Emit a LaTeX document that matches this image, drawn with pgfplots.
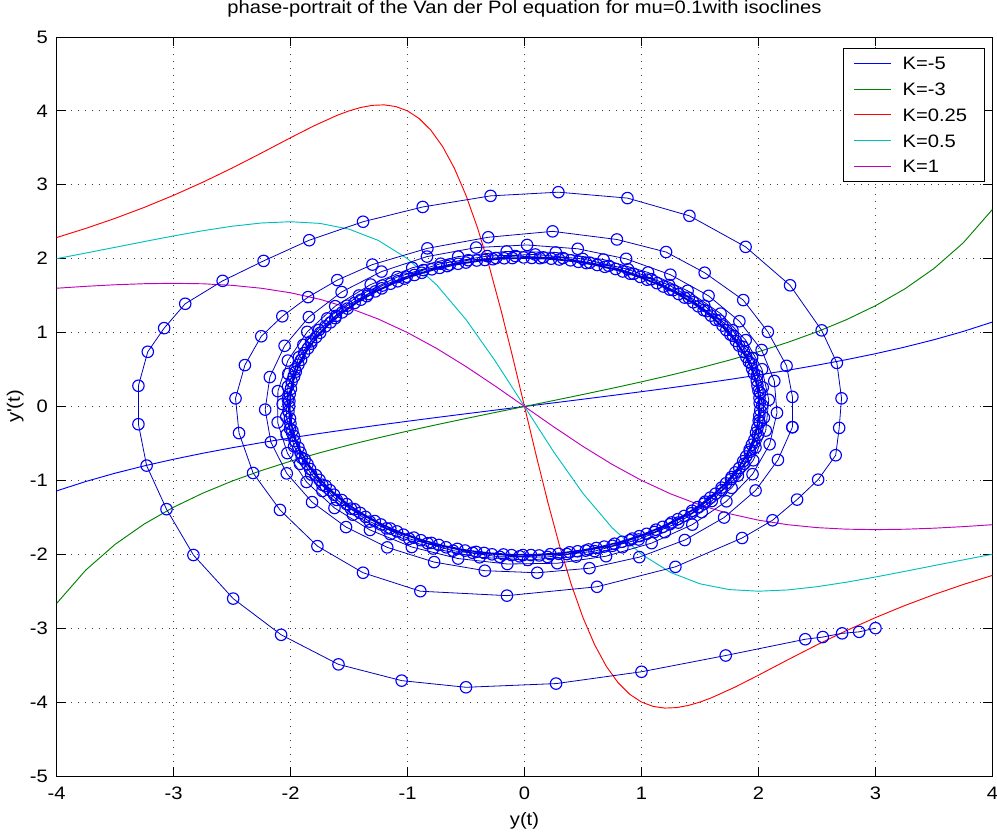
\documentclass[border=0pt]{standalone}
\usepackage{fontspec}
\setmainfont{Liberation Sans}[FakeStretch=1.12,Ligatures=TeXOff]
\usepackage{pgfplots}
\pgfplotsset{compat=1.18}

\definecolor{mblue}{rgb}{0,0,1}
\definecolor{mgreen}{rgb}{0,0.5,0}
\definecolor{mred}{rgb}{1,0,0}
\definecolor{mcyan}{rgb}{0,0.75,0.75}
\definecolor{mmag}{rgb}{0.75,0,0.75}
\newcommand{\ff}{\fontsize{13.5}{16}\selectfont}

\pgfplotsset{
  iso/.style={line width=0.7pt, forget plot},
  traj/.style={color=mblue!75!black, line width=0.6pt, mark=o, mark size=4.3pt,
    mark options={solid, color=mblue, line width=0.85pt}, forget plot},
}

\begin{document}
\begin{tikzpicture}
\path[use as bounding box] (-42.4pt,-48pt) rectangle (705.4pt,582pt);
\begin{axis}[
  at={(0pt,0pt)}, anchor=south west,
  scale only axis, width=702pt, height=554.25pt,
  xmin=-4, xmax=4, ymin=-5, ymax=5,
  xtick={-4,...,4}, ytick={-5,...,5},
  tick align=inside, xtick pos=both, ytick pos=both,
  major tick length=6.75pt,
  tick style={black, line width=0.6pt},
  axis line style={black, line width=0.6pt},
  grid=major,
  major grid style={black!75, line width=0.6pt, dash pattern=on 0.75pt off 4.5pt},
  /pgf/number format/assume math mode=true,
  ticklabel style={font=\ff},
  xticklabel style={yshift=-5pt},
  yticklabel style={xshift=-3pt},
  title={phase-portrait of the Van der Pol equation for mu=0.1with isoclines},
  title style={at={(axis description cs:0.5,1)}, anchor=base, yshift=12pt, font=\ff},
  xlabel={y(t)},
  xlabel style={at={(axis description cs:0.5,0)}, anchor=center, yshift=-33.75pt, font=\ff},
  ylabel={y'(t)},
  ylabel style={at={(axis description cs:0,0.5)}, anchor=center, yshift=31pt, font=\ff},
  legend cell align=left,
  legend style={at={(axis description cs:0.9914,0.9851)}, anchor=north east,
    font=\ff, inner xsep=4.25pt, inner ysep=4.4pt, row sep=5.65pt,
    nodes={inner xsep=2pt, inner ysep=2pt, text height=9.7pt, text depth=0pt}},
  legend image code/.code={\path (-4pt,0pt); \draw[#1] (0pt,0pt) -- (27.75pt,0pt); \path (33.75pt,0pt);},
]

% isoclines, K=-5
\addplot[iso, color=mblue] coordinates {
(-4,-1.1429) (-3.75,-1.0152) (-3.5,-0.9032) (-3.25,-0.8037) (-3,-0.7143)
(-2.75,-0.6331) (-2.5,-0.5587) (-2.25,-0.4898) (-2,-0.4255) (-1.75,-0.3651)
(-1.5,-0.3077) (-1.25,-0.2528) (-1,-0.2) (-0.75,-0.1487) (-0.5,-0.0985)
(-0.25,-0.0491) (0,0) (0.25,0.0491) (0.5,0.0985) (0.75,0.1487) (1,0.2)
(1.25,0.2528) (1.5,0.3077) (1.75,0.3651) (2,0.4255) (2.25,0.4898)
(2.5,0.5587) (2.75,0.6331) (3,0.7143) (3.25,0.8037) (3.5,0.9032)
(3.75,1.0152) (4,1.1429)
};

% K=-3
\addplot[iso, color=mgreen] coordinates {
(-4,-2.6667) (-3.75,-2.2140) (-3.5,-1.8667) (-3.25,-1.5902) (-3,-1.3636)
(-2.75,-1.1733) (-2.5,-1.0101) (-2.25,-0.8675) (-2,-0.7407) (-1.75,-0.6264)
(-1.5,-0.5217) (-1.25,-0.4246) (-1,-0.3333) (-0.75,-0.2464) (-0.5,-0.1626)
(-0.25,-0.0808) (0,0) (0.25,0.0808) (0.5,0.1626) (0.75,0.2464) (1,0.3333)
(1.25,0.4246) (1.5,0.5217) (1.75,0.6264) (2,0.7407) (2.25,0.8675)
(2.5,1.0101) (2.75,1.1733) (3,1.3636) (3.25,1.5902) (3.5,1.8667)
(3.75,2.2140) (4,2.6667)
};

% K=0.25
\addplot[iso, color=mred] coordinates {
(-4,2.2857) (-3.75,2.4096) (-3.5,2.5455) (-3.25,2.6943) (-3,2.8571)
(-2.75,3.0345) (-2.5,3.2258) (-2.25,3.4286) (-2,3.6364) (-1.8,3.7975)
(-1.6,3.9409) (-1.5,4.0) (-1.4,4.0462) (-1.3,4.0752) (-1.2,4.0816)
(-1.1,4.0590) (-1,4.0) (-0.9,3.8961) (-0.8,3.7383) (-0.7,3.5176)
(-0.6,3.2258) (-0.5,2.8571) (-0.4,2.4096) (-0.3,1.8868) (-0.2,1.2987)
(-0.1,0.6623) (0,0) (0.1,-0.6623) (0.2,-1.2987) (0.3,-1.8868)
(0.4,-2.4096) (0.5,-2.8571) (0.6,-3.2258) (0.7,-3.5176) (0.8,-3.7383)
(0.9,-3.8961) (1,-4.0) (1.1,-4.0590) (1.2,-4.0816) (1.3,-4.0752)
(1.4,-4.0462) (1.5,-4.0) (1.6,-3.9409) (1.8,-3.7975) (2,-3.6364)
(2.25,-3.4286) (2.5,-3.2258) (2.75,-3.0345) (3,-2.8571) (3.25,-2.6943)
(3.5,-2.5455) (3.75,-2.4096) (4,-2.2857)
};

% K=0.5
\addplot[iso, color=mcyan] coordinates {
(-4,2.0) (-3.75,2.0761) (-3.5,2.1538) (-3.25,2.2318) (-3,2.3077)
(-2.75,2.3784) (-2.5,2.4390) (-2.25,2.4828) (-2,2.5) (-1.75,2.4779)
(-1.5,2.4) (-1.25,2.2472) (-1,2.0) (-0.75,1.6438) (-0.5,1.1765)
(-0.25,0.6154) (0,0) (0.25,-0.6154) (0.5,-1.1765) (0.75,-1.6438)
(1,-2.0) (1.25,-2.2472) (1.5,-2.4) (1.75,-2.4779) (2,-2.5)
(2.25,-2.4828) (2.5,-2.4390) (2.75,-2.3784) (3,-2.3077) (3.25,-2.2318)
(3.5,-2.1538) (3.75,-2.0761) (4,-2.0)
};

% K=1
\addplot[iso, color=mmag] coordinates {
(-4,1.6) (-3.75,1.6260) (-3.5,1.6471) (-3.25,1.6613) (-3,1.6667)
(-2.75,1.6604) (-2.5,1.6393) (-2.25,1.6) (-2,1.5385) (-1.75,1.4508)
(-1.5,1.3333) (-1.25,1.1834) (-1,1.0) (-0.75,0.7843) (-0.5,0.5405)
(-0.25,0.2759) (0,0) (0.25,-0.2759) (0.5,-0.5405) (0.75,-0.7843)
(1,-1.0) (1.25,-1.1834) (1.5,-1.3333) (1.75,-1.4508) (2,-1.5385)
(2.25,-1.6) (2.5,-1.6393) (2.75,-1.6604) (3,-1.6667) (3.25,-1.6613)
(3.5,-1.6471) (3.75,-1.6260) (4,-1.6)
};

\addlegendimage{draw=mblue, line width=0.8pt}
\addlegendentry{K=-5}
\addlegendimage{draw=mgreen, line width=0.8pt}
\addlegendentry{K=-3}
\addlegendimage{draw=mred, line width=0.8pt}
\addlegendentry{K=0.25\hspace*{6.5pt}}
\addlegendimage{draw=mcyan, line width=0.8pt}
\addlegendentry{K=0.5}
\addlegendimage{draw=mmag, line width=0.8pt}
\addlegendentry{K=1}

% trajectory from (3,-3): the two outer turns
\addplot[traj] coordinates {
(3.00,-3.00) (2.86,-3.05) (2.715,-3.07) (2.55,-3.12) (2.40,-3.15)
(1.72,-3.37) (1.00,-3.59) (0.27,-3.75) (-0.50,-3.80) (-1.05,-3.71)
(-1.59,-3.49) (-2.08,-3.09) (-2.49,-2.60) (-2.83,-2.01) (-3.06,-1.39)
(-3.23,-0.80) (-3.30,-0.24) (-3.30,0.28) (-3.22,0.74) (-3.08,1.06)
(-2.90,1.39) (-2.58,1.70) (-2.23,1.97) (-1.84,2.25) (-1.38,2.50)
(-0.87,2.70) (-0.29,2.85) (0.29,2.90) (0.88,2.82) (1.41,2.58)
(1.89,2.16) (2.27,1.64) (2.54,1.03) (2.67,0.59) (2.71,0.11)
(2.69,-0.29) (2.66,-0.66) (2.51,-0.99) (2.33,-1.26) (2.12,-1.54)
(1.86,-1.78) (1.29,-2.17) (0.62,-2.44) (-0.15,-2.56) (-0.89,-2.50)
(-1.38,-2.25) (-1.77,-1.89) (-2.09,-1.40) (-2.32,-0.90) (-2.44,-0.36)
(-2.47,0.11) (-2.39,0.56) (-2.25,0.95) (-2.07,1.22) (-1.85,1.48)
(-1.60,1.71) (-1.30,1.92) (-0.83,2.14) (-0.31,2.29) (0.24,2.37)
(0.79,2.26) (1.21,2.09) (1.54,1.81) (1.87,1.44) (2.08,1.01)
(2.24,0.55) (2.29,0.13) (2.29,-0.28)
};

% inner turns onto the limit cycle, as (angle in degrees, radius)
\addplot[traj, data cs=polar] coordinates {
(-7.00,2.307) (-18.46,2.284) (-29.92,2.279) (-41.38,2.274) (-52.84,2.268)
(-64.30,2.263) (-75.76,2.258) (-87.22,2.253) (-98.68,2.248) (-110.14,2.243)
(-121.60,2.239) (-133.06,2.234) (-144.52,2.230) (-155.98,2.225) (-167.44,2.221)
(-178.90,2.217) (-190.36,2.213) (-201.82,2.209) (-213.28,2.205) (-224.74,2.201)
(-236.20,2.197) (-247.66,2.193) (-259.12,2.190) (-270.58,2.186) (-282.04,2.182)
(-293.50,2.179) (-304.96,2.176) (-316.42,2.172) (-327.88,2.169) (-339.34,2.166)
(-350.80,2.163) (-2.26,2.160) (-13.72,2.157) (-25.18,2.154) (-36.64,2.151)
(-48.10,2.148) (-59.56,2.145) (-71.02,2.143) (-82.48,2.140) (-93.94,2.137)
(-105.40,2.135) (-116.86,2.132) (-128.32,2.130) (-139.78,2.127) (-151.24,2.125)
(-162.70,2.123) (-174.16,2.121) (-185.62,2.118) (-197.08,2.116) (-208.54,2.114)
(-220.00,2.112) (-231.46,2.110) (-242.92,2.108) (-254.38,2.106) (-265.84,2.104)
(-277.30,2.102) (-288.76,2.100) (-300.22,2.099) (-311.68,2.097) (-323.14,2.095)
(-334.60,2.093) (-346.06,2.092) (-357.52,2.090) (-8.98,2.088) (-20.44,2.087)
(-31.90,2.085) (-43.36,2.084) (-54.82,2.082) (-66.28,2.081) (-77.74,2.079)
(-89.20,2.078) (-100.66,2.077) (-112.12,2.075) (-123.58,2.074) (-135.04,2.073)
(-146.50,2.072) (-157.96,2.070) (-169.42,2.069) (-180.88,2.068) (-192.34,2.067)
(-203.80,2.066) (-215.26,2.065) (-226.72,2.063) (-238.18,2.062) (-249.64,2.061)
(-261.10,2.060) (-272.56,2.059) (-284.02,2.058) (-295.48,2.057) (-306.94,2.056)
(-318.40,2.055) (-329.86,2.055) (-341.32,2.054) (-352.78,2.053) (-4.24,2.052)
(-15.70,2.051) (-27.16,2.050) (-38.62,2.049) (-50.08,2.049) (-61.54,2.048)
(-73.00,2.047) (-84.46,2.046) (-95.92,2.046) (-107.38,2.045) (-118.84,2.044)
(-130.30,2.044) (-141.76,2.043) (-153.22,2.042) (-164.68,2.042) (-176.14,2.041)
(-187.60,2.040) (-199.06,2.040) (-210.52,2.039) (-221.98,2.039) (-233.44,2.038)
(-244.90,2.038) (-256.36,2.037) (-267.82,2.037) (-279.28,2.036) (-290.74,2.035)
(-302.20,2.035) (-313.66,2.034) (-325.12,2.034) (-336.58,2.033) (-348.04,2.033)
(-359.50,2.032) (-10.96,2.032) (-22.42,2.032) (-33.88,2.031) (-45.34,2.031)
(-56.80,2.030) (-68.26,2.030) (-79.72,2.030) (-91.18,2.029) (-102.64,2.029)
(-114.10,2.028) (-125.56,2.028) (-137.02,2.028) (-148.48,2.027) (-159.94,2.027)
(-171.40,2.027) (-182.86,2.026) (-194.32,2.026) (-205.78,2.026) (-217.24,2.025)
(-228.70,2.025) (-240.16,2.025) (-251.62,2.024) (-263.08,2.024) (-274.54,2.024)
(-286.00,2.024) (-297.46,2.023) (-308.92,2.023) (-320.38,2.023) (-331.84,2.023)
(-343.30,2.022) (-354.76,2.022) (-6.22,2.022) (-17.68,2.021) (-29.14,2.021)
(-40.60,2.021) (-52.06,2.021) (-63.52,2.021) (-74.98,2.020) (-86.44,2.020)
(-97.90,2.020) (-109.36,2.020) (-120.82,2.020) (-132.28,2.020) (-143.74,2.019)
(-155.20,2.019) (-166.66,2.019) (-178.12,2.019) (-189.58,2.019) (-201.04,2.018)
(-212.50,2.018) (-223.96,2.018) (-235.42,2.018) (-246.88,2.018) (-258.34,2.017)
(-269.80,2.017) (-281.26,2.017) (-292.72,2.017) (-304.18,2.017) (-315.64,2.017)
(-327.10,2.016) (-338.56,2.016) (-350.02,2.016) (-1.48,2.016) (-12.94,2.016)
(-24.40,2.016) (-35.86,2.015) (-47.32,2.015) (-58.78,2.015) (-70.24,2.015)
(-81.70,2.015) (-93.16,2.015) (-104.62,2.015) (-116.08,2.015) (-127.54,2.014)
(-139.00,2.014) (-150.46,2.014) (-161.92,2.014) (-173.38,2.014) (-184.84,2.014)
(-196.30,2.014) (-207.76,2.014) (-219.22,2.013) (-230.68,2.013) (-242.14,2.013)
(-253.60,2.013) (-265.06,2.013) (-276.52,2.013) (-287.98,2.013) (-299.44,2.013)
(-310.90,2.013) (-322.36,2.013) (-333.82,2.013) (-345.28,2.012) (-356.74,2.012)
(-8.20,2.012) (-19.66,2.012) (-31.12,2.012) (-42.58,2.012) (-54.04,2.012)
(-65.50,2.012) (-76.96,2.012) (-88.42,2.012) (-99.88,2.012) (-111.34,2.012)
(-122.80,2.012) (-134.26,2.012) (-145.72,2.012) (-157.18,2.012) (-168.64,2.012)
(-180.10,2.011) (-191.56,2.011) (-203.02,2.011) (-214.48,2.011) (-225.94,2.011)
(-237.40,2.011) (-248.86,2.011) (-260.32,2.011) (-271.78,2.011) (-283.24,2.011)
(-294.70,2.011) (-306.16,2.011) (-317.62,2.011) (-329.08,2.011) (-340.54,2.011)
(-352.00,2.011) (-3.46,2.011) (-14.92,2.011) (-26.38,2.011) (-37.84,2.011)
(-49.30,2.011) (-60.76,2.011) (-72.22,2.011) (-83.68,2.011) (-95.14,2.011)
(-106.60,2.011) (-118.06,2.011) (-129.52,2.011) (-140.98,2.011) (-152.44,2.011)
(-163.90,2.011) (-175.36,2.011) (-186.82,2.011) (-198.28,2.011) (-209.74,2.011)
(-221.20,2.011) (-232.66,2.011) (-244.12,2.011) (-255.58,2.011) (-267.04,2.011)
(-278.50,2.011) (-289.96,2.011) (-301.42,2.011) (-312.88,2.011) (-324.34,2.011)
(-335.80,2.011) (-347.26,2.011) (-358.72,2.011) (-10.18,2.011) (-21.64,2.011)
(-33.10,2.011) (-44.56,2.011) (-56.02,2.011) (-67.48,2.011) (-78.94,2.011)
(-90.40,2.011) (-101.86,2.011) (-113.32,2.011) (-124.78,2.011) (-136.24,2.011)
(-147.70,2.011) (-159.16,2.011) (-170.62,2.011) (-182.08,2.011) (-193.54,2.011)
(-205.00,2.011) (-216.46,2.011) (-227.92,2.011) (-239.38,2.011) (-250.84,2.011)
(-262.30,2.011) (-273.76,2.011) (-285.22,2.011) (-296.68,2.011) (-308.14,2.011)
(-319.60,2.011) (-331.06,2.011) (-342.52,2.011) (-353.98,2.011) (-5.44,2.011)
(-16.90,2.011) (-28.36,2.011) (-39.82,2.011) (-51.28,2.011) (-62.74,2.011)
(-74.20,2.011)
};

\end{axis}
\end{tikzpicture}
\end{document}
